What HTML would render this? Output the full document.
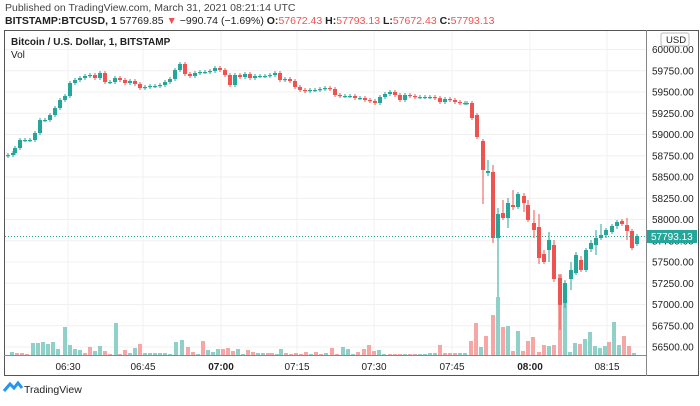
<!DOCTYPE html>
<html><head><meta charset="utf-8"><style>
body{margin:0;background:#fff;width:700px;height:401px;overflow:hidden;font-family:"Liberation Sans",sans-serif}
</style></head><body>
<svg id="s" width="700" height="401" xmlns="http://www.w3.org/2000/svg" font-family="Liberation Sans, sans-serif">
<text x="5" y="11" font-size="10.5" fill="#444">Published on TradingView.com, March 31, 2021 08:21:14 UTC</text>
<text x="5" y="24" font-size="10.5" fill="#222" font-weight="bold">BITSTAMP:BTCUSD, 1 <tspan font-weight="normal">57769.85 </tspan><tspan fill="#ef5350">▼</tspan><tspan font-weight="normal"> −990.74 (−1.69%) </tspan>O:<tspan fill="#ef5350" font-weight="normal">57672.43</tspan> H:<tspan fill="#ef5350" font-weight="normal">57793.13</tspan> L:<tspan fill="#ef5350" font-weight="normal">57672.43</tspan> C:<tspan fill="#ef5350" font-weight="normal">57793.13</tspan></text>
<g id="grid"></g>
<g id="vol"></g>
<g id="cdl"></g>
<rect x="4.5" y="30.5" width="694" height="345" fill="none" stroke="#555" stroke-width="1"/>
<line x1="646.5" y1="30" x2="646.5" y2="376" stroke="#888"/>
<line x1="4" y1="355.5" x2="646" y2="355.5" stroke="#888"/>
<text x="11" y="45" font-size="10" font-weight="bold" fill="#222">Bitcoin / U.S. Dollar, 1, BITSTAMP</text>
<text x="11" y="58" font-size="10" fill="#222">Vol</text>
<g id="ax" font-size="10" fill="#222"></g>
<line x1="5" y1="236.5" x2="646" y2="236.5" stroke="#26a69a" stroke-dasharray="1,2"/>
<rect x="647" y="230" width="50" height="13" fill="#26a69a"/>
<text x="651" y="240" font-size="10" fill="#fff">57793.13</text>
<rect x="661" y="33" width="28" height="13" rx="2" fill="#fff" stroke="#bbb"/>
<text x="666" y="43" font-size="9.5" fill="#222">USD</text>
<path d="M4 391 L10 384 L14 388 L18 383 L22 388" fill="none" stroke="#2196f3" stroke-width="3"/>
<text x="24" y="393" font-size="10.5" fill="#222">TradingView</text>
</svg>
<script>
const NS="http://www.w3.org/2000/svg";
function el(p,t,a,txt){const e=document.createElementNS(NS,t);for(const k in a)e.setAttribute(k,a[k]);if(txt)e.textContent=txt;document.getElementById(p).appendChild(e);}
const Y=p=>49.5+(60000-p)*0.085;
for(let p=56500;p<=60000;p+=250){const y=Y(p);el('grid','line',{x1:5,x2:646,y1:y,y2:y,stroke:'#f0f0f0'});
 if(p<60000)el('ax','text',{x:652,y:y+3.5},p.toFixed(2));}
el('ax','text',{x:652,y:Y(60000)+3.5},'60000.00');
const T=[[68,'06:30'],[143,'06:45'],[221,'07:00'],[297,'07:15'],[374,'07:30'],[452,'07:45'],[530,'08:00'],[607,'08:15']];
T.forEach(([x,t])=>{el('grid','line',{x1:x,x2:x,y1:31,y2:355,stroke:'#f0f0f0'});el('ax','text',{x:x,y:370,'text-anchor':'middle','font-weight':t.endsWith('00')?'bold':'normal'},t);});
// closes (y px)
const C=[[8,155],[13,153],[15,148],[20,140],[25,140],[30,140],[35,133],[40,120],[45,120],[50,115],[55,108],[60,100],[65,96],[70,83],[75,80],[80,78],[85,76],[90,75],[95,78],[100,73],[105,82],[110,82],[115,78],[120,80],[125,83],[130,81],[135,84],[140,88],[145,87],[150,86],[155,86],[160,85],[165,82],[170,79],[175,70],[180,64],[185,74],[190,76],[195,73],[200,72],[205,72],[210,71],[215,68],[220,70],[225,75],[230,85],[235,75],[240,77],[245,74],[250,78],[255,76],[260,76],[265,76],[270,75],[275,73],[280,80],[285,79],[290,81],[295,87],[300,90],[305,91],[310,90],[315,90],[320,89],[325,88],[330,89],[335,95],[340,96],[345,96],[350,96],[355,98],[360,98],[365,100],[370,101],[375,103],[380,97],[385,94],[390,92],[395,95],[400,100],[405,95],[410,96],[415,97],[420,97],[425,97],[430,97],[435,98],[440,102],[445,99],[450,100],[455,102],[460,103],[465,103],[467,103]];
let prev=C[0][1]+1;
function candle(x,o,c,h,l){const g=c<=o;const col=g?'#26a69a':'#ef5350';
 el('cdl','line',{x1:x,x2:x,y1:h,y2:l,stroke:col});
 const t=Math.min(o,c),b=Math.max(o,c);el('cdl','rect',{x:x-2,y:t,width:4,height:Math.max(1.2,b-t),fill:col});}
C.forEach(([x,c])=>{candle(x,prev,c,Math.min(prev,c)-2,Math.max(prev,c)+2);prev=c;});
// explicit [x,o,c,h,l]
const E=[[472,103,118,101,120],[477,115,137,113,139],[483,141,170,139,204],[488,173,171,160,176],[493,172,238,165,243],[498,238,214,208,297],[503,213,218,200,220],[508,218,203,198,228],[513,205,207,190,210],[518,207,194,192,209],[524,196,203,193,212],[528,205,220,200,222],[534,223,230,210,238],[539,227,258,214,264],[544,254,262,250,264],[549,250,240,232,262],[554,245,279,240,282],[560,278,305,275,330],[565,303,283,280,308],[571,279,270,262,290],[576,273,255,252,275],[581,260,270,256,272],[586,270,250,248,272],[591,249,243,240,252],[596,245,238,230,255],[601,238,235,224,240],[606,235,230,228,238],[612,232,226,224,234],[617,226,222,220,229],[622,221,224,219,226],[627,225,231,218,240],[632,231,248,229,250],[637,244,236,234,246]];
E.forEach(a=>candle(...a));
// volume [x,h,g]
const V=[[12,3,'g'],[17,2,'r'],[22,2,'r'],[27,1,'r'],[33,12,'g'],[38,12,'g'],[43,13,'g'],[48,11,'g'],[53,13,'g'],[58,6,'g'],[65,28,'g'],[70,10,'g'],[75,6,'g'],[80,5,'g'],[85,2,'r'],[90,8,'r'],[95,4,'g'],[100,9,'g'],[105,4,'r'],[110,1,'r'],[116,32,'g'],[120,1,'r'],[125,5,'r'],[130,2,'g'],[135,7,'g'],[140,11,'r'],[145,2,'g'],[150,2,'g'],[155,2,'g'],[160,2,'g'],[165,2,'g'],[170,1,'g'],[176,13,'g'],[182,15,'g'],[188,8,'r'],[193,3,'r'],[198,1,'g'],[203,14,'r'],[208,5,'g'],[213,3,'g'],[218,6,'g'],[223,6,'r'],[228,7,'r'],[233,4,'r'],[238,6,'g'],[243,1,'g'],[248,5,'r'],[253,3,'r'],[258,2,'g'],[263,2,'g'],[268,2,'r'],[272,2,'r'],[277,1,'g'],[281,6,'g'],[286,2,'r'],[291,1,'r'],[296,2,'r'],[301,1,'r'],[306,3,'r'],[311,1,'g'],[316,3,'r'],[321,1,'r'],[326,2,'g'],[332,7,'r'],[337,1,'r'],[343,8,'g'],[348,6,'g'],[353,1,'g'],[358,3,'r'],[364,6,'r'],[369,10,'r'],[374,4,'r'],[379,5,'g'],[384,1,'g'],[390,1,'r'],[395,1,'r'],[400,1,'r'],[405,1,'g'],[410,1,'r'],[415,1,'r'],[420,1,'g'],[425,1,'g'],[430,2,'g'],[435,2,'g'],[440,10,'r'],[445,2,'r'],[450,2,'r'],[455,2,'r'],[460,2,'g'],[465,2,'g'],[471,14,'r'],[476,32,'r'],[481,8,'g'],[486,19,'r'],[493,40,'r'],[498,58,'g'],[503,28,'r'],[508,29,'g'],[513,4,'r'],[518,24,'g'],[523,4,'r'],[528,14,'r'],[533,18,'r'],[539,3,'r'],[544,10,'r'],[549,9,'g'],[554,10,'r'],[560,81,'r'],[565,53,'g'],[570,3,'g'],[575,12,'g'],[580,11,'r'],[585,16,'g'],[590,23,'g'],[595,9,'g'],[600,7,'g'],[605,9,'g'],[609,13,'r'],[614,33,'g'],[619,10,'g'],[624,19,'r'],[629,9,'r'],[634,2,'g']];
V.forEach(([x,h,c])=>el('vol','rect',{x:x-2,y:355-h,width:4,height:h,fill:c=='g'?'#8fd1c9':'#f6a7a5'}));
</script>
</body></html>
